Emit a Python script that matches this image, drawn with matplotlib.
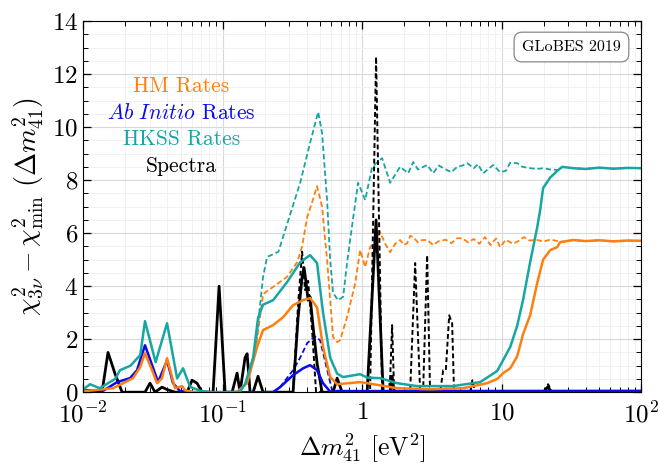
import numpy as np
import matplotlib
matplotlib.use('Agg')
import matplotlib.pyplot as plt
from matplotlib.ticker import FixedLocator, FixedFormatter, MultipleLocator, LogLocator, NullFormatter, FuncFormatter

plt.rcParams['mathtext.fontset'] = 'cm'
plt.rcParams['font.family'] = 'serif'
plt.rcParams['font.serif'] = ['cmr10', 'DejaVu Serif']
plt.rcParams['axes.formatter.use_mathtext'] = True

# log10(dm2_41 / eV^2) and chi^2
hkss_lx = [-2.0, -1.95, -1.88, -1.77, -1.735, -1.66, -1.59, -1.556, -1.48, -1.398, -1.326, -1.283,
           -1.233, -1.16, -1.09, -0.98, -0.875, -0.839, -0.781, -0.746, -0.71, -0.638, -0.538,
           -0.444, -0.373, -0.323, -0.28, -0.229, -0.179, -0.136, -0.014, 0.036, 0.129, 0.251,
           0.394, 0.652, 0.846, 0.968, 1.061, 1.111, 1.154, 1.204, 1.254, 1.276, 1.297, 1.348,
           1.369, 1.405, 1.434, 1.513, 1.6, 1.7, 1.8, 1.9, 2.0]
hkss_y = [0.1, 0.3, 0.15, 0.5, 0.83, 1.0, 1.4, 2.68, 1.13, 2.6, 0.52, 0.9,
          0.2, 0.05, 0.0, 0.0, 0.02, 0.3, 1.3, 2.8, 3.3, 3.47, 4.15,
          4.9, 5.17, 4.87, 3.0, 1.3, 0.7, 0.57, 0.68, 0.55, 0.53, 0.34,
          0.23, 0.23, 0.38, 0.8, 1.7, 2.5, 3.5, 4.9, 6.2, 6.87, 7.7, 8.1,
          8.2, 8.38, 8.5, 8.45, 8.42, 8.47, 8.43, 8.46, 8.45]

hm_lx = [-2.0, -1.785, -1.713, -1.642, -1.591, -1.556, -1.505, -1.47, -1.434, -1.398, -1.362,
         -1.341, -1.29, -1.269, -1.2, -0.9, -0.824, -0.753, -0.71, -0.638, -0.566, -0.495,
         -0.423, -0.373, -0.323, -0.28, -0.229, -0.179, -0.014, 0.129, 0.251, 0.487, 0.724,
         0.896, 0.968, 1.011, 1.061, 1.111, 1.154, 1.204, 1.254, 1.297, 1.348, 1.398, 1.419,
         1.513, 1.6, 1.7, 1.8, 1.9, 2.0]
hm_y = [0.03, 0.15, 0.34, 0.53, 0.94, 1.47, 0.83, 0.34, 0.53, 1.28, 0.57,
        0.15, 0.23, 0.07, 0.0, 0.0, 0.34, 1.7, 2.34, 2.53, 2.83, 3.28,
        3.47, 3.55, 3.2, 1.7, 0.57, 0.3, 0.38, 0.26, 0.15, 0.11, 0.15,
        0.34, 0.5, 0.72, 0.9, 1.35, 2.2, 2.9, 4.1, 5.0, 5.36, 5.47, 5.66,
        5.74, 5.7, 5.73, 5.69, 5.72, 5.71]

ab_lx = [-2.0, -1.85, -1.756, -1.663, -1.613, -1.556, -1.505, -1.462, -1.398, -1.355, -1.305,
         -1.2, -0.638, -0.588, -0.495, -0.423, -0.373, -0.323, -0.28, -0.229, -0.15, 2.0]
ab_y = [0.07, 0.07, 0.38, 0.53, 0.83, 1.77, 1.02, 0.38, 1.2, 0.34, 0.04,
        0.0, 0.0, 0.19, 0.64, 0.9, 1.02, 0.83, 0.34, 0.02, 0.04, 0.05]

spec_lx = [-2.0, -1.864, -1.821, -1.771, -1.72, -1.556, -1.52, -1.484, -1.434, -1.398, -1.341,
           -1.254, -1.219, -1.183, -1.147, -1.068, -1.025, -0.982, -0.932, -0.896, -0.875,
           -0.839, -0.824, -0.803, -0.781, -0.746, -0.71, -0.495, -0.459, -0.43, -0.416,
           -0.401, -0.387, -0.373, -0.351, -0.323, -0.287, -0.208, -0.179, -0.143, 0.036,
           0.1, 0.151, 0.2, 0.215, 0.23, 1.3, 1.33, 1.36, 2.0]
spec_y = [0.0, 0.0, 1.5, 0.7, 0.0, 0.0, 0.34, 0.0, 0.19, 0.1, 0.0,
          0.0, 0.45, 0.34, 0.0, 0.0, 4.0, 0.0, 0.0, 0.72, 0.0,
          1.3, 1.45, 0.0, 0.0, 0.6, 0.0, 0.0, 2.8, 4.35, 4.7,
          4.1, 3.47, 3.6, 2.45, 1.1, 0.0, 0.0, 0.53, 0.0, 0.0,
          6.5, 0.0, 0.0, 0.6, 0.0, 0.0, 0.2, 0.0, 0.0]

# dashed companions
hkss_d_lx = [-0.82, -0.767, -0.753, -0.71, -0.681, -0.6, -0.444, -0.373, -0.315, -0.287, -0.251,
             -0.229, -0.208, -0.172, -0.136, -0.108, -0.086, -0.029, 0.022, 0.072, 0.143, 0.201,
             0.272, 0.33, 0.366, 0.4, 0.466, 0.509, 0.55, 0.6, 0.64, 0.681, 0.72, 0.753, 0.8,
             0.83, 0.867, 0.9, 0.939, 0.989, 1.03, 1.06, 1.111, 1.15, 1.204, 1.25, 1.3, 1.35,
             1.419]
hkss_d_y = [0.5, 1.6, 2.2, 4.35, 5.1, 5.3, 7.9, 9.4, 10.57, 9.77, 7.25,
            4.98, 3.74, 3.47, 3.6, 4.87, 5.74, 7.9, 7.25, 8.5, 8.83, 7.9,
            8.5, 8.26, 8.68, 8.4, 8.57, 8.26, 8.55, 8.4, 8.3, 8.5, 8.55, 8.64, 8.45,
            8.6, 8.26, 8.4, 8.57, 8.3, 8.35, 8.65, 8.64, 8.5, 8.45, 8.42, 8.45, 8.4,
            8.38]

hm_d_lx = [-0.824, -0.76, -0.71, -0.638, -0.538, -0.466, -0.43, -0.394, -0.35, -0.323, -0.301,
           -0.287, -0.265, -0.251, -0.229, -0.208, -0.179, -0.158, -0.108, -0.05, -0.014, 0.022,
           0.057, 0.1, 0.129, 0.165, 0.201, 0.237, 0.272, 0.3, 0.323, 0.345, 0.366, 0.4, 0.43,
           0.466, 0.509, 0.55, 0.6, 0.64, 0.681, 0.72, 0.76, 0.8, 0.84, 0.88, 0.92, 0.96,
           0.989, 1.03, 1.08, 1.12, 1.16, 1.2, 1.25, 1.3, 1.35, 1.4, 1.419]
hm_d_y = [0.34, 1.7, 3.7, 3.97, 4.35, 4.9, 5.5, 6.6, 7.3, 7.77, 7.3,
          7.0, 5.74, 5.0, 3.47, 2.08, 1.89, 1.96, 2.83, 4.1, 5.36, 4.72,
          5.47, 5.7, 6.04, 5.6, 5.28, 5.6, 5.74, 5.55, 5.62, 5.9, 5.85, 5.65, 5.74,
          5.74, 5.55, 5.7, 5.75, 5.62, 5.81, 5.8, 5.65, 5.78, 5.6, 5.85, 5.55, 5.8,
          5.47, 5.75, 5.6, 5.7, 5.85, 5.72, 5.75, 5.68, 5.76, 5.7, 5.66]

ab_d_lx = [-0.638, -0.588, -0.495, -0.444, -0.394, -0.337, -0.301, -0.25, -0.215, -0.15, 2.0]
ab_d_y = [0.0, 0.19, 0.83, 1.3, 1.85, 2.1, 1.96, 0.83, 0.07, 0.05, 0.05]

spec_d_lx = [-0.55, -0.495, -0.459, -0.43, -0.409, -0.387, -0.358, -0.33, 0.057, 0.1, 0.143,
             0.19, 0.201, 0.215, 0.229, 0.237, 0.344, 0.38, 0.416, 0.437, 0.466, 0.487,
             0.559, 0.581, 0.6, 0.624, 0.645, 0.659, 0.774, 0.79, 0.81, 1.3, 1.333, 1.36, 2.0]
spec_d_y = [0.0, 0.0, 3.3, 5.3, 3.85, 4.2, 2.3, 0.0, 0.0, 12.65, 0.1,
            0.0, 0.55, 2.53, 0.1, 0.0, 0.0, 4.87, 0.0, 0.0, 5.17, 0.0,
            0.0, 0.83, 0.83, 2.9, 2.6, 0.0, 0.0, 0.45, 0.0, 0.0, 0.3, 0.0, 0.0]

c_hm = '#ff7f0e'
c_ab = '#0a0aee'
c_hkss = '#16a6a3'
c_spec = 'black'

# dashed parts join the solid curves beyond the last dashed point
def extend(lx, y, base_lx, base_y):
    lx = list(lx); y = list(y)
    for a, b in zip(base_lx, base_y):
        if a > lx[-1]:
            lx.append(a); y.append(b)
    return 10 ** np.array(lx), np.array(y)

fig = plt.figure(figsize=(6.59, 4.68), dpi=100)
ax = fig.add_axes([0.126, 0.162, 0.847, 0.793])

dash = (0, (3.0, 1.6))
x, y = extend(hm_d_lx, hm_d_y, hm_lx, hm_y)
ax.plot(x, y, color=c_hm, lw=1.3, ls=dash)
x, y = extend(hkss_d_lx, hkss_d_y, hkss_lx, hkss_y)
ax.plot(x, y, color=c_hkss, lw=1.3, ls=dash)
ax.plot(10 ** np.array(ab_d_lx), ab_d_y, color=c_ab, lw=1.3, ls=dash)
ax.plot(10 ** np.array(spec_d_lx), spec_d_y, color=c_spec, lw=1.4, ls=(0, (2.5, 1.5)))

ax.plot(10 ** np.array(spec_lx), spec_y, color=c_spec, lw=2.0)
ax.plot(10 ** np.array(ab_lx), ab_y, color=c_ab, lw=1.8)
ax.plot(10 ** np.array(hm_lx), hm_y, color=c_hm, lw=1.8)
ax.plot(10 ** np.array(hkss_lx), hkss_y, color=c_hkss, lw=1.8)

ax.set_xscale('log')
ax.set_xlim(1e-2, 1e2)
ax.set_ylim(0, 14)
ax.xaxis.set_major_locator(FixedLocator([1e-2, 1e-1, 1, 10, 100]))
ax.xaxis.set_major_formatter(FixedFormatter([r'$10^{-2}$', r'$10^{-1}$', r'$1$', r'$10$', r'$10^2$']))
ax.xaxis.set_minor_locator(LogLocator(base=10, subs=np.arange(2, 10), numticks=20))
ax.xaxis.set_minor_formatter(NullFormatter())
ax.yaxis.set_major_locator(MultipleLocator(2))
ax.yaxis.set_minor_locator(MultipleLocator(0.5))
ax.yaxis.set_major_formatter(FuncFormatter(lambda v, p: r'$%d$' % round(v)))

ax.tick_params(which='both', direction='in', top=True, right=True, labelsize=18)
ax.tick_params(which='major', length=6, width=0.9)
ax.tick_params(which='minor', length=3.5, width=0.7)
ax.tick_params(axis='x', pad=7)
ax.grid(which='major', color='#d9d9d9', lw=0.8)
ax.grid(which='minor', color='#efefef', lw=0.6)
ax.set_axisbelow(True)

ax.set_xlabel(r'$\Delta m^2_{41}\ [\mathrm{eV}^2]$', fontsize=18.5, labelpad=3)
ax.set_ylabel(r'$\chi^2_{3\nu}-\chi^2_{\mathrm{min}}\ (\Delta m^2_{41})$', fontsize=20, labelpad=4)

lx0 = 0.176
ax.text(lx0, 0.825, 'HM Rates', color=c_hm, fontsize=15.5, ha='center', va='center', transform=ax.transAxes)
ax.text(lx0, 0.752, r'$\mathit{Ab\ Initio}$ Rates', color=c_ab, fontsize=15.5, ha='center', va='center', transform=ax.transAxes)
ax.text(lx0, 0.682, 'HKSS Rates', color=c_hkss, fontsize=15.5, ha='center', va='center', transform=ax.transAxes)
ax.text(lx0, 0.609, 'Spectra', color=c_spec, fontsize=15.5, ha='center', va='center', transform=ax.transAxes)

ax.text(0.875, 0.93, 'GLoBES 2019', fontsize=11.5, ha='center', va='center', transform=ax.transAxes,
        bbox=dict(boxstyle='round,pad=0.5,rounding_size=0.5', fc='white', ec='#888888', lw=0.9))

fig.savefig('out.png', dpi=100)
